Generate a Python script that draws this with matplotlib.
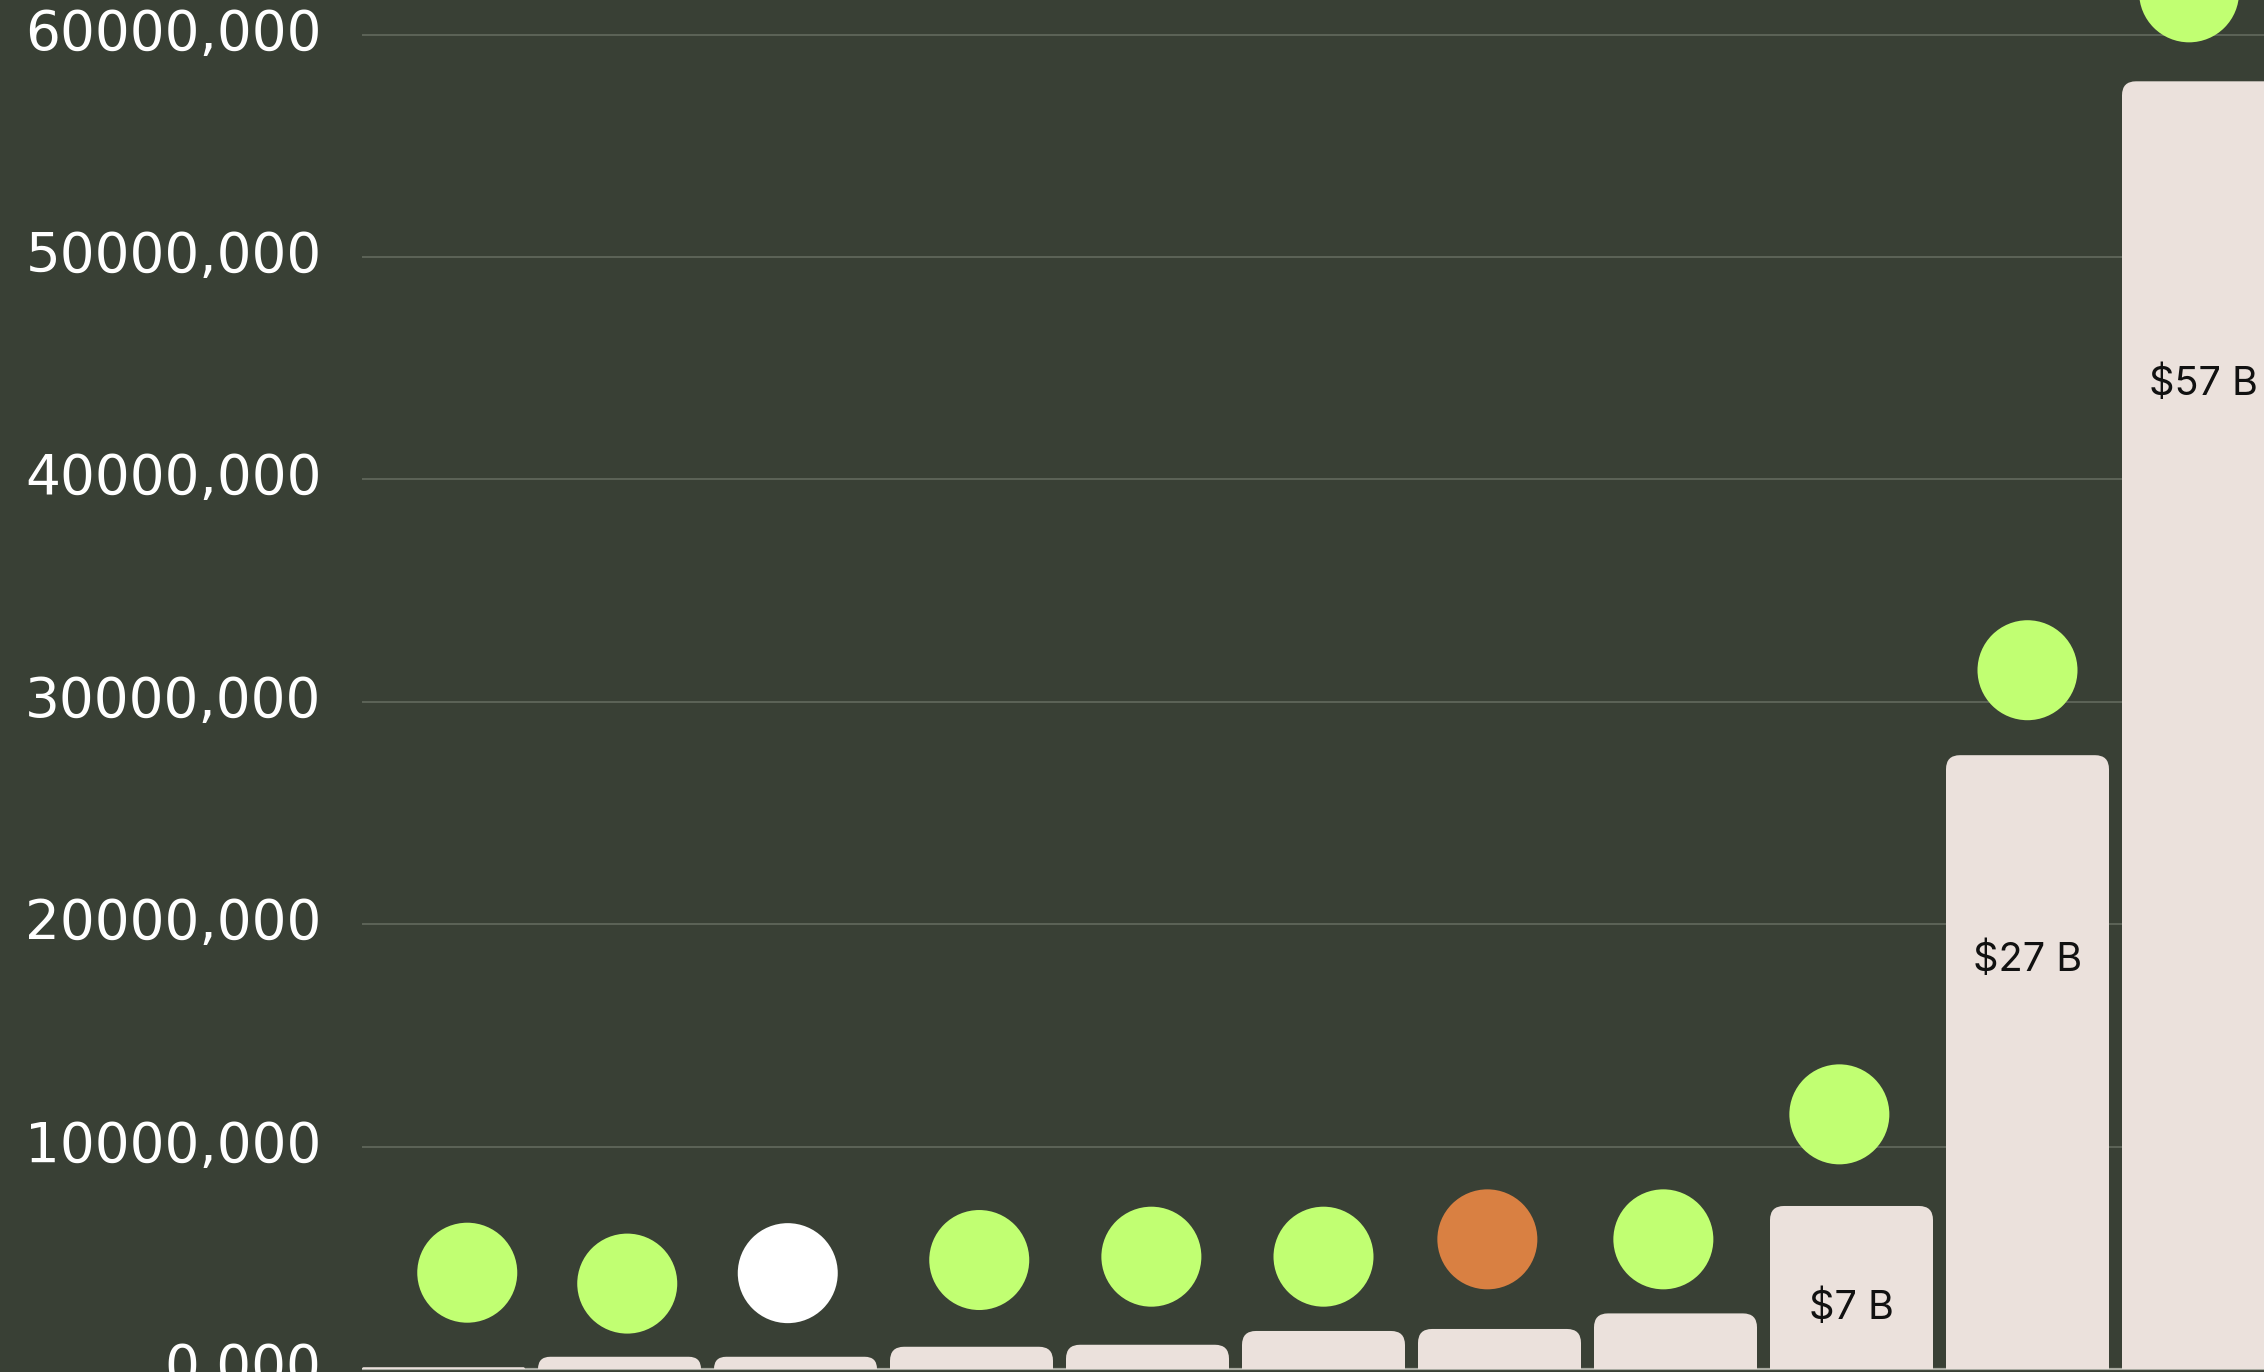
import matplotlib
matplotlib.use("Agg")
import matplotlib.pyplot as plt
from matplotlib.path import Path
from matplotlib.patches import PathPatch
from matplotlib.ticker import FuncFormatter

# data
categories = list(range(11))
bar_values = [0.08e6, 0.55e6, 0.55e6, 1.0e6, 1.09e6, 1.71e6, 1.8e6, 2.5e6, 7.33e6, 27.6e6, 57.9e6]
dot_x = [0.135, 1.044, 1.956, 3.044, 4.022, 5.0, 5.931, 6.931, 7.931, 9.0, 9.918]
dot_values = [4.33e6, 3.84e6, 4.31e6, 4.9e6, 5.05e6, 5.05e6, 5.83e6, 5.83e6, 11.45e6, 31.42e6, 61.9e6]
dot_kinds = ['up', 'up', 'flat', 'up', 'up', 'up', 'down', 'up', 'up', 'up', 'up']
label_idx = [8, 9, 10]
label_text = ['$7 B', '$27 B', '$57 B']
label_y = [2.74e6, 18.4e6, 44.3e6]
yticks = [0, 10e6, 20e6, 30e6, 40e6, 50e6, 60e6]

BG = '#394035'
BAR = '#ebe1dc'
GRID = '#666d61'
kind_colors = {'up': '#c1ff72', 'flat': '#ffffff', 'down': '#d98042'}

W, H, DPI = 2264, 1372, 100
fig = plt.figure(figsize=(W / DPI, H / DPI), dpi=DPI, facecolor=BG)
left_px = 362
ax = fig.add_axes([left_px / W, 0, 1 - left_px / W, 1])
ax.set_facecolor(BG)

px_per_unit_y = 22.24 / 1e6   # pixels per value unit
px_per_unit_x = 176.0          # pixels per category step
bar_w = 163 / 176
ax.set_xlim(-bar_w / 2, -bar_w / 2 + (W - left_px) / px_per_unit_x)
ax.set_ylim(-3 / px_per_unit_y, 1369 / px_per_unit_y)


def top_rounded_bar(x, h, w, r_px=14):
    x0, x1 = x - w / 2, x + w / 2
    ry = min(r_px / px_per_unit_y, h)
    rx = min(r_px / px_per_unit_x, w / 2) * (ry / (r_px / px_per_unit_y))
    verts = [(x0, 0), (x0, h - ry), (x0, h), (x0 + rx, h), (x1 - rx, h),
             (x1, h), (x1, h - ry), (x1, 0), (x0, 0)]
    codes = [Path.MOVETO, Path.LINETO, Path.CURVE3, Path.CURVE3, Path.LINETO,
             Path.CURVE3, Path.CURVE3, Path.LINETO, Path.CLOSEPOLY]
    return PathPatch(Path(verts, codes), facecolor=BAR, edgecolor='none', zorder=2)


for x, v in zip(categories, bar_values):
    ax.add_patch(top_rounded_bar(x, v, bar_w))

ax.scatter(dot_x, dot_values, s=72 ** 2,
           c=[kind_colors[k] for k in dot_kinds], linewidths=0, zorder=3)

for i, t, y in zip(label_idx, label_text, label_y):
    ax.text(categories[i], y, t, ha='center', va='center', fontsize=28.5,
            family=['Inter', 'DejaVu Sans'], color='#111111', zorder=4)

ax.set_yticks(yticks)
ax.yaxis.set_major_formatter(FuncFormatter(lambda v, p: f"{int(v) // 1000},{int(v) % 1000:03d}"))
ax.tick_params(axis='y', length=0, pad=29, labelsize=39.5, labelcolor='white')
for lab in ax.get_yticklabels():
    lab.set_verticalalignment('center')
ax.tick_params(axis='x', length=0, labelbottom=False)
ax.set_xticks([])
ax.grid(axis='y', color=GRID, linewidth=1.1, zorder=0)
ax.set_axisbelow(True)
ax.axhline(0, color='#a9aba2', linewidth=1.6, zorder=1.5)
for s in ax.spines.values():
    s.set_visible(False)

fig.savefig('out.png', dpi=DPI, facecolor=BG)
